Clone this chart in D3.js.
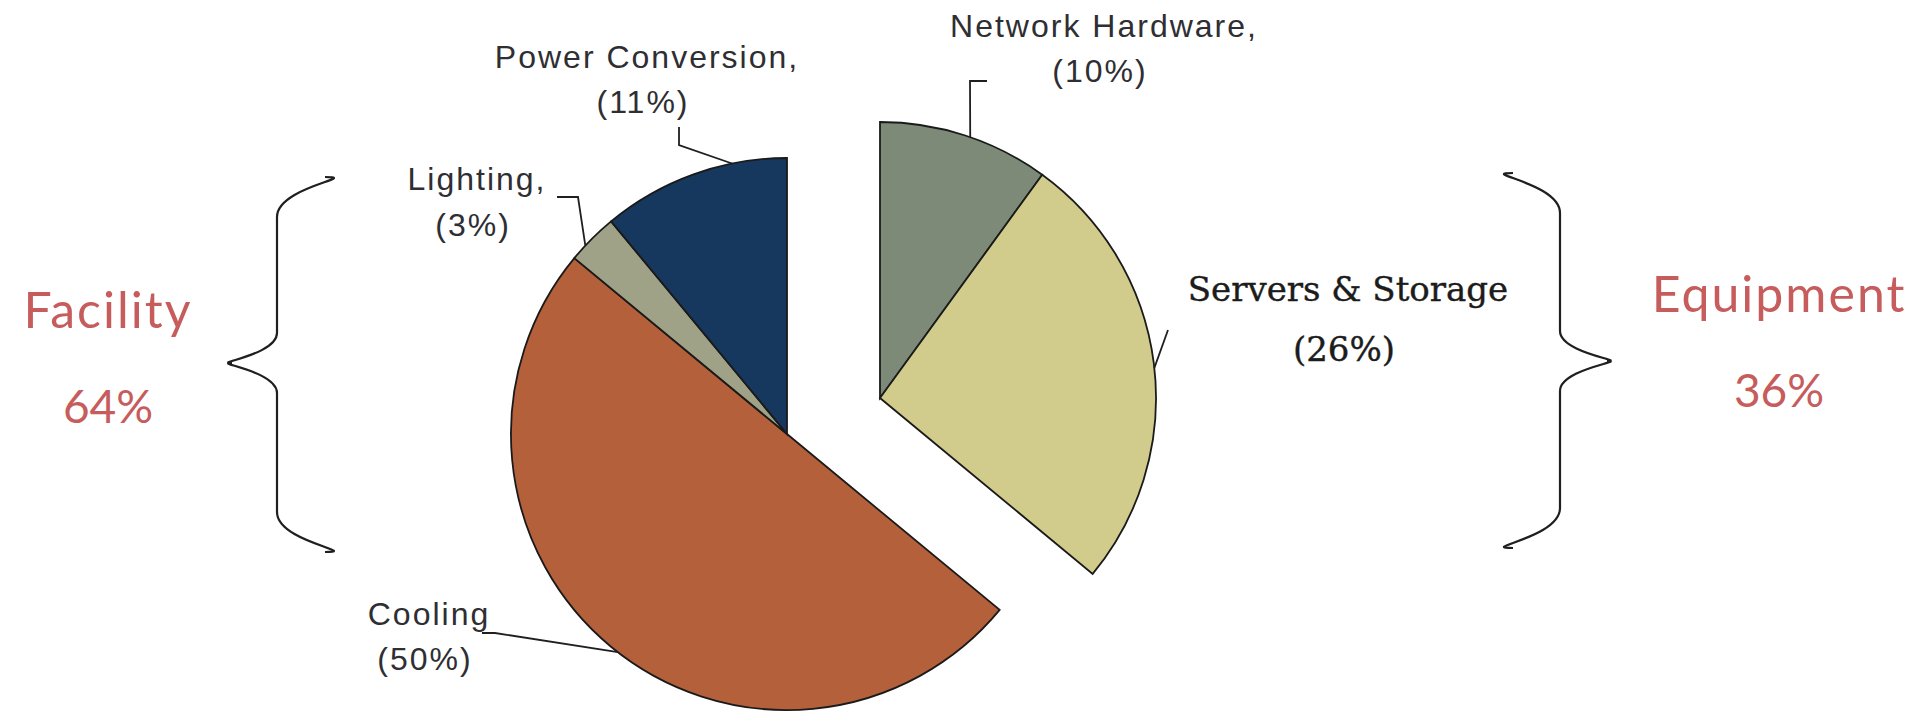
<!DOCTYPE html>
<meta charset="UTF-8">
<style>
body { margin: 0; background: #fff; }
.slice { stroke: #1a1a1a; stroke-width: 1.8px; }
.leader, .brace { fill: none; stroke: #1f1f1f; }
.leader { stroke-width: 1.8px; }
.brace { stroke-width: 2.2px; }
.lbl { font-family: "Liberation Sans", Arial, sans-serif; font-size: 32px; letter-spacing: 2px; fill: #2e2e33; }
.lbl.serif { font-family: "DejaVu Serif", serif; font-size: 34px; letter-spacing: 0px; fill: #1c1c1c; stroke: #1c1c1c; stroke-width: 0.4px; }
.group { font-family: Lato, "Open Sans", sans-serif; fill: #c65c5c; }
</style>
<body>
<script src="https://d3js.org/d3.v7.min.js"></script>
<script>

// data
var categories = ["Network Hardware", "Servers & Storage", "Cooling", "Lighting", "Power Conversion"];
var shares = [10, 26, 50, 3, 11];
var groupOf = ["Equipment", "Equipment", "Facility", "Facility", "Facility"];
var groupNames = ["Facility", "Equipment"];
var groupShares = [64, 36];

var colors = ["#7d8a78", "#d2cc8c", "#b4603a", "#a0a287", "#16375e"];

var width = 1926, height = 716;
var radius = 276;
var center = {x: 787, y: 434};
var explode = {dx: 93, dy: -36};   // equipment wedge pulled out

// where each data label sits, and where its leader bends
var labelLayout = {
  "Network Hardware":  {x: 1104, y: 37,  gap: 45, comma: true,  attach: 0.53, bends: [[970, 81], [987, 81]]},
  "Servers & Storage": {x: 1348, y: 301, gap: 60, comma: false, attach: 0.51, bends: [[1168, 330]], serif: true},
  "Cooling":           {x: 429,  y: 625, gap: 45, comma: false, attach: 0.49, bends: [[495, 633], [482, 633]]},
  "Lighting":          {x: 477,  y: 190, gap: 46, comma: true,  attach: 0.32, bends: [[578, 197], [557, 197]]},
  "Power Conversion":  {x: 647,  y: 68,  gap: 45, comma: true,  attach: 0.71, bends: [[679, 145], [679, 127]]}
};

var svg = d3.select("body").append("svg")
    .attr("width", width)
    .attr("height", height);

var pie = d3.pie().sort(null).value(function(d) { return d; });
var arcs = pie(shares);

var arc = d3.arc().innerRadius(0).outerRadius(radius);

function offsetFor(i) {
  return groupOf[i] === "Equipment" ? explode : {dx: 0, dy: 0};
}

svg.append("g").selectAll("path")
    .data(arcs)
  .enter().append("path")
    .attr("class", "slice")
    .attr("transform", function(d, i) {
      var o = offsetFor(i);
      return "translate(" + (center.x + o.dx) + "," + (center.y + o.dy) + ")";
    })
    .attr("fill", function(d, i) { return colors[i]; })
    .attr("d", arc);

// leader lines
var line = d3.line();
svg.append("g").selectAll("path")
    .data(arcs)
  .enter().append("path")
    .attr("class", "leader")
    .attr("d", function(d, i) {
      var L = labelLayout[categories[i]], o = offsetFor(i);
      var a = d.startAngle + (d.endAngle - d.startAngle) * L.attach;
      var p = [center.x + o.dx + radius * Math.sin(a), center.y + o.dy - radius * Math.cos(a)];
      return line([p].concat(L.bends));
    });

// data labels
var lbl = svg.append("g").selectAll("g")
    .data(arcs)
  .enter().append("g");

lbl.append("text")
    .attr("class", function(d, i) { return labelLayout[categories[i]].serif ? "lbl serif" : "lbl"; })
    .attr("text-anchor", "middle")
    .attr("x", function(d, i) { return labelLayout[categories[i]].x; })
    .attr("y", function(d, i) { return labelLayout[categories[i]].y; })
    .text(function(d, i) { return categories[i] + (labelLayout[categories[i]].comma ? "," : ""); });

lbl.append("text")
    .attr("class", function(d, i) { return labelLayout[categories[i]].serif ? "lbl serif" : "lbl"; })
    .attr("text-anchor", "middle")
    .attr("x", function(d, i) { return labelLayout[categories[i]].x - 4; })
    .attr("y", function(d, i) { var L = labelLayout[categories[i]]; return L.y + L.gap; })
    .text(function(d, i) { return "(" + shares[i] + "%)"; });

// curly braces for the two groups
function brace(xEnd, xBar, xTip, yTop, yTip, yBot) {
  var s = xBar > xEnd ? 1 : -1;  // which way the brace opens
  var c = 30;
  return "M" + xEnd + "," + yTop +
    " C" + (xEnd - s * 36) + "," + yTop + " " + xBar + "," + (yTop + 10) + " " + xBar + "," + (yTop + c + 10) +
    " L" + xBar + "," + (yTip - c) +
    " C" + xBar + "," + (yTip - 8) + " " + (xTip + s * 20) + "," + yTip + " " + xTip + "," + yTip +
    " C" + (xTip + s * 20) + "," + yTip + " " + xBar + "," + (yTip + 8) + " " + xBar + "," + (yTip + c) +
    " L" + xBar + "," + (yBot - c - 10) +
    " C" + xBar + "," + (yBot - 10) + " " + (xEnd - s * 36) + "," + yBot + " " + xEnd + "," + yBot;
}

var braceLayout = {
  "Facility":  {xEnd: 325,  xBar: 277,  xTip: 232,  yTop: 177, yTip: 363, yBot: 552, tx: 108,  ty: 328},
  "Equipment": {xEnd: 1513, xBar: 1560, xTip: 1607, yTop: 173, yTip: 361, yBot: 548, tx: 1779, ty: 312}
};

var grp = svg.append("g").selectAll("g")
    .data(groupNames)
  .enter().append("g");

grp.append("path")
    .attr("class", "brace")
    .attr("d", function(g) {
      var b = braceLayout[g];
      return brace(b.xEnd, b.xBar, b.xTip, b.yTop, b.yTip, b.yBot);
    });

grp.append("text")
    .attr("class", "group")
    .attr("text-anchor", "middle")
    .attr("x", function(g) { return braceLayout[g].tx; })
    .attr("y", function(g) { return braceLayout[g].ty; })
    .style("font-size", "50px")
    .style("letter-spacing", "2px")
    .text(function(g) { return g; });

grp.append("text")
    .attr("class", "group")
    .attr("text-anchor", "middle")
    .attr("x", function(g) { return braceLayout[g].tx; })
    .attr("y", function(g) { return braceLayout[g].ty + 95; })
    .style("font-size", "46px")
    .text(function(g, i) { return groupShares[i] + "%"; });

</script>
</body>
